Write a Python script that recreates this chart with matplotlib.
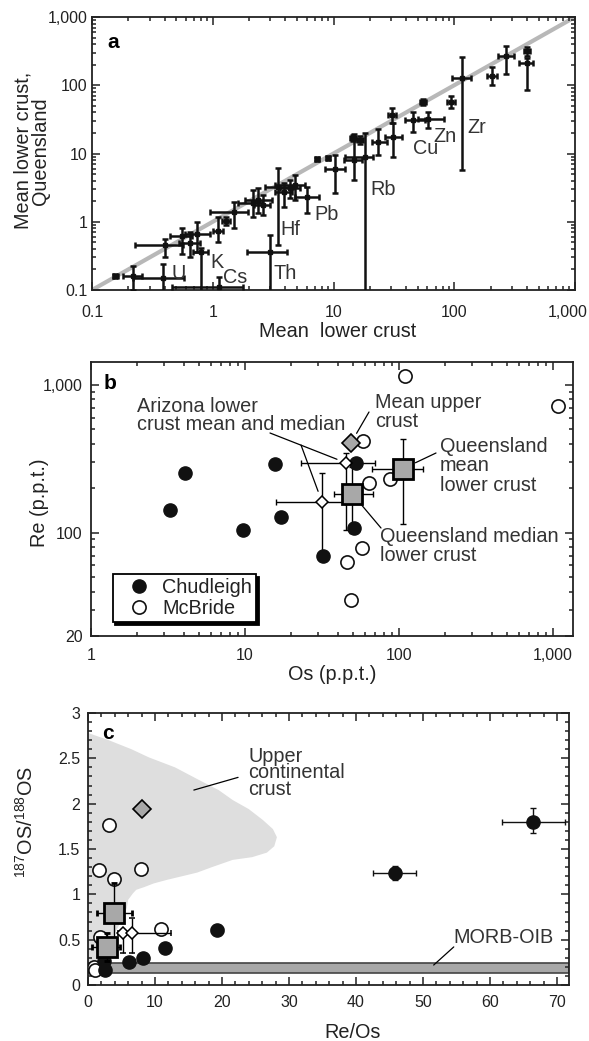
import numpy as np
import matplotlib.pyplot as plt
from matplotlib import font_manager
from matplotlib.ticker import FuncFormatter, LogLocator, MultipleLocator, NullFormatter

plt.rcParams['font.family'] = ['Liberation Sans', 'DejaVu Sans']
plt.rcParams['mathtext.fontset'] = 'custom'
plt.rcParams['mathtext.rm'] = 'Liberation Sans'
plt.rcParams['text.color'] = '#222222'
plt.rcParams['axes.labelcolor'] = '#222222'
plt.rcParams['xtick.color'] = '#222222'
plt.rcParams['ytick.color'] = '#222222'

# tick numbers in the original are set in a narrow face
try:
    font_manager.findfont(font_manager.FontProperties(family='Liberation Sans Narrow'),
                          fallback_to_default=False)
    TICK_FONT, TICK_SIZE = 'Liberation Sans Narrow', 13.5
except Exception:
    TICK_FONT, TICK_SIZE = 'Liberation Sans', 11.5

# ---------------- panel a : element concentrations ----------------
a_x = np.array([0.155, 0.218, 0.39, 0.40, 0.556, 0.65, 0.74, 0.80, 1.13, 1.10,
                1.29, 1.50, 2.15, 2.37, 2.6, 3.47, 2.98, 3.89, 4.37, 4.80,
                6.03, 7.3, 9.0, 10.3, 14.5, 16.6, 14.8, 18.2, 23.4, 31.1,
                30.5, 45.5, 60.7, 55, 94, 116, 205, 268, 400, 400])
a_y = np.array([0.16, 0.16, 0.15, 0.45, 0.62, 0.49, 0.66, 0.36, 0.11, 0.73,
                1.03, 1.39, 1.88, 2.08, 1.76, 3.23, 0.36, 2.73, 3.12, 3.45,
                2.31, 8.3, 8.6, 5.93, 16.9, 15.8, 8.0, 8.9, 14.7, 17.5,
                36.6, 31, 32, 57, 57, 128, 136, 268, 318, 212])
a_xlo = np.array([0.148, 0.18, 0.219, 0.227, 0.44, 0.53, 0.59, 0.68, 0.46, 1.0,
                  1.2, 0.95, 1.62, 1.85, 2.2, 2.71, 1.92, 3.3, 3.6, 3.28,
                  4.8, 7.0, 8.6, 8.5, 13.8, 15.8, 12.2, 12.4, 20.8, 26.7,
                  28.5, 39, 50, 52, 87, 96, 186, 230, 380, 344])
a_xhi = np.array([0.163, 0.26, 0.578, 0.567, 0.67, 0.78, 0.95, 0.91, 1.78, 1.22,
                  1.4, 1.96, 2.56, 3.1, 3.0, 4.63, 4.12, 4.5, 5.3, 5.8,
                  7.6, 7.6, 9.4, 12.4, 15.3, 17.5, 17.2, 21.2, 27.7, 36.9,
                  33, 57, 82, 58, 102, 138, 226, 313, 420, 449])
a_ylo = np.array([0.15, 0.1, 0.05, 0.305, 0.34, 0.30, 0.36, 0.05, 0.05, 0.50,
                  0.9, 0.81, 1.17, 1.34, 1.26, 0.456, 0.05, 1.64, 2.23, 2.08,
                  1.34, 7.8, 8.1, 2.64, 15.5, 14, 4.1, 0.05, 9.5, 8.9,
                  28, 20.6, 23.7, 52, 46.4, 5.7, 101, 146, 270, 85])
a_yhi = np.array([0.172, 0.225, 0.24, 0.56, 0.81, 0.71, 0.99, 0.41, 0.155, 1.17,
                  1.18, 1.95, 2.92, 3.12, 2.47, 6.1, 0.64, 3.70, 4.1, 4.84,
                  3.23, 8.9, 9.2, 9.5, 18.5, 18, 19.3, 20, 22.9, 28,
                  46.4, 40.6, 40.6, 63, 69.7, 259, 185, 376, 363, 250])

a_names = ['U', 'K', 'Cs', 'Th', 'Hf', 'Pb', 'Rb', 'Cu', 'Zn', 'Zr']
a_name_x = [0.52, 1.08, 1.53, 3.96, 4.37, 8.8, 25.7, 58, 84, 154]
a_name_y = [0.177, 0.25, 0.155, 0.177, 0.78, 1.26, 2.92, 12, 17.5, 24.4]

# ---------------- panel b : Re vs Os ----------------
chud_os = [4.08, 3.26, 9.7, 15.7, 17.1, 52.6, 51, 32.1]
chud_re = [254, 143, 105, 293, 128, 297, 108, 70]
mcb_os = [109, 1077, 58.4, 87.7, 63.9, 57.5, 46, 48.8]
mcb_re = [1151, 721, 419, 232, 218, 79, 63, 34.8]

az_os = np.array([45.3, 31.6])
az_re = np.array([297, 162])
az_os_lo = np.array([23.1, 15.9])
az_os_hi = np.array([69.8, 44.6])
az_re_lo = np.array([105, 69])
az_re_hi = np.array([348, 254])

qld_os = np.array([49.5, 106])          # median, mean
qld_re = np.array([184, 271])
qld_os_lo = np.array([38, 66.7])
qld_os_hi = np.array([68, 143])
qld_re_lo = np.array([100, 115])
qld_re_hi = np.array([279, 432])

uc_os, uc_re = 48.8, 405               # mean upper crust

# ---------------- panel c : 187Os/188Os vs Re/Os ----------------
c_mcb_reos = [3.1, 1.7, 3.9, 7.9, 10.9, 1.8, 0.9, 1.0]
c_mcb_osr = [1.76, 1.27, 1.17, 1.28, 0.62, 0.53, 0.20, 0.16]

c_chud_reos = np.array([2.5, 2.4, 6.1, 8.2, 11.5, 19.2, 45.8, 66.4])
c_chud_osr = np.array([0.17, 0.27, 0.25, 0.30, 0.41, 0.61, 1.235, 1.80])
c_chud_xlo = np.array([2.5, 2.4, 6.1, 8.2, 11.5, 18.3, 42.5, 61.8])
c_chud_xhi = np.array([2.5, 2.4, 6.1, 8.2, 11.5, 20.1, 49.0, 71.2])
c_chud_ylo = np.array([0.17, 0.27, 0.25, 0.30, 0.41, 0.61, 1.16, 1.68])
c_chud_yhi = np.array([0.17, 0.27, 0.25, 0.30, 0.41, 0.61, 1.31, 1.95])

c_qld_reos = np.array([3.9, 2.8])
c_qld_osr = np.array([0.79, 0.42])
c_qld_xlo = np.array([1.3, 0.6])
c_qld_xhi = np.array([6.6, 4.8])
c_qld_ylo = np.array([0.5, 0.27])
c_qld_yhi = np.array([1.12, 0.57])

c_az_reos = np.array([5.2, 6.6])
c_az_osr = np.array([0.57, 0.57])
c_az_xlo = np.array([5.2, 4.5])
c_az_xhi = np.array([5.2, 12.4])
c_az_ylo = np.array([0.35, 0.35])
c_az_yhi = np.array([0.57, 0.74])

c_uc_reos, c_uc_osr = 8.0, 1.94

# outline of upper continental crust field
ucc_x = [0, 3.1, 6.5, 9.1, 13, 16.6, 19.5, 21.6, 24, 26.1, 27.6, 28.2, 27.8,
         26.7, 24.5, 21.6, 18.5, 16.3, 13.5, 11.8, 9.8, 8.4, 7.2, 6.7, 6.0,
         5.8, 5.2, 4.5, 3.9, 3.6, 3.1, 2.8, 2.0, 1.0, 0]
ucc_y = [2.78, 2.70, 2.60, 2.51, 2.40, 2.26, 2.15, 2.04, 1.94, 1.82, 1.72, 1.63, 1.53,
         1.46, 1.41, 1.38, 1.30, 1.24, 1.19, 1.16, 1.12, 1.08, 1.05, 1.01, 0.94,
         0.85, 0.74, 0.64, 0.56, 0.50, 0.40, 0.31, 0.26, 0.24, 0.22]
morb_lo, morb_hi = 0.13, 0.24

GREY = '#a8a8a8'
TXT = 14.3

fig = plt.figure(figsize=(5.89, 10.41), dpi=100)
W, H = 589.0, 1041.0


def axes_at(left, top, right, bottom):
    return fig.add_axes([left / W, 1 - bottom / H, (right - left) / W, (bottom - top) / H])


def style(ax, xpad, ypad):
    for s in ax.spines.values():
        s.set_linewidth(1.3)
        s.set_color('#222222')
    ax.tick_params(which='both', direction='in', top=True, right=True,
                   labelsize=TICK_SIZE, labelfontfamily=TICK_FONT, width=1.1)
    ax.tick_params(which='major', length=6)
    ax.tick_params(which='minor', length=3)
    ax.tick_params(axis='x', which='major', pad=xpad)
    ax.tick_params(axis='y', which='major', pad=ypad)


def log_fmt(v, pos):
    return '{:,.0f}'.format(v) if v >= 1 else '{:g}'.format(v)


def fig_pt(px, py):
    return (px / W, 1 - py / H)


# ----- a -----
ax = axes_at(92, 17, 575, 290)
ax.set_xscale('log')
ax.set_yscale('log')
ax.set_xlim(0.1, 1000)
ax.set_ylim(0.1, 1000)
ax.plot([0.1, 1000], [0.1, 1000], color='#b8b8b8', lw=3, zorder=1)
ax.errorbar(a_x, a_y, xerr=[a_x - a_xlo, a_xhi - a_x], yerr=[a_y - a_ylo, a_yhi - a_y],
            fmt='s', ms=3.5, color='#111111', elinewidth=1.8, capsize=2.5,
            capthick=1.8, zorder=3)
for name, tx, ty in zip(a_names, a_name_x, a_name_y):
    ax.text(tx, ty, name, fontsize=TXT, ha='center', va='center', color='#333333')
ax.set_xticks([0.1, 1, 10, 100, 1000])
ax.set_yticks([0.1, 1, 10, 100, 1000])
for axis in (ax.xaxis, ax.yaxis):
    axis.set_major_formatter(FuncFormatter(log_fmt))
    axis.set_minor_locator(LogLocator(subs=np.arange(2, 10)))
    axis.set_minor_formatter(NullFormatter())
# last x label sits at the figure edge: draw it nudged a little to the left
ax.xaxis.set_major_formatter(FuncFormatter(lambda v, p: '' if v >= 1000 else log_fmt(v, p)))
ax.annotate('1,000', xy=(1000, 0), xycoords=('data', 'axes fraction'), xytext=(-5, -10.5),
            textcoords='offset points', ha='center', va='top', fontsize=TICK_SIZE,
            family=TICK_FONT, color='#222222')
style(ax, 10.5, 3)
ax.text(0.043, 0.905, 'a', transform=ax.transAxes, fontsize=15, fontweight='bold',
        ha='center', va='center', color='black')
ax.text(0.509, -0.152, 'Mean  lower crust', transform=ax.transAxes, fontsize=TXT,
        ha='center', va='center')
ax.text(-0.124, 0.51, 'Mean lower crust,\nQueensland', transform=ax.transAxes,
        fontsize=TXT, rotation=90, ha='center', va='center', linespacing=0.9)

# ----- b -----
bx = axes_at(91, 362, 573, 636)
bx.set_xscale('log')
bx.set_yscale('log')
bx.set_xlim(1, 1349)
bx.set_ylim(20, 1429)
bx.errorbar(az_os, az_re, xerr=[az_os - az_os_lo, az_os_hi - az_os],
            yerr=[az_re - az_re_lo, az_re_hi - az_re], fmt='none', ecolor='black',
            elinewidth=1, capsize=2.5, capthick=1, zorder=2)
bx.errorbar(qld_os, qld_re, xerr=[qld_os - qld_os_lo, qld_os_hi - qld_os],
            yerr=[qld_re - qld_re_lo, qld_re_hi - qld_re], fmt='none', ecolor='black',
            elinewidth=1, capsize=2.5, capthick=1, zorder=2)
bx.plot(chud_os, chud_re, 'o', ms=9.5, mfc='#111111', mec='#111111', zorder=4,
        label='Chudleigh')
bx.plot(mcb_os, mcb_re, 'o', ms=9.5, mfc='white', mec='#111111', mew=1.2, zorder=4,
        label='McBride')
bx.plot(az_os, az_re, 'D', ms=6.5, mfc='white', mec='black', mew=1.1, zorder=5)
bx.plot(qld_os, qld_re, 's', ms=14, mfc=GREY, mec='black', mew=2, zorder=6)
bx.plot(uc_os, uc_re, 'D', ms=9, mfc=GREY, mec='black', mew=1.2, zorder=5)

ann = dict(fontsize=TXT, ha='left', va='top', linespacing=1.02, color='#333333')
lead = dict(arrowstyle='-', color='black', lw=0.9)

bx.text(*fig_pt(137, 397), 'Arizona lower\ncrust mean and median',
        transform=fig.transFigure, linespacing=0.92,
        **{k: v for k, v in ann.items() if k != 'linespacing'})
bx.annotate('', xy=(az_os[0], az_re[0]), xytext=fig_pt(270, 433), textcoords='figure fraction',
            arrowprops=dict(shrinkB=7, shrinkA=0, **lead))
bx.annotate('', xy=(az_os[1], az_re[1]), xytext=fig_pt(301, 445), textcoords='figure fraction',
            arrowprops=dict(shrinkB=8, shrinkA=0, **lead))
bx.text(*fig_pt(375, 393), 'Mean upper\ncrust', transform=fig.transFigure, **ann)
bx.annotate('', xy=(uc_os, uc_re), xytext=fig_pt(369, 412), textcoords='figure fraction',
            arrowprops=dict(shrinkB=8, shrinkA=0, **lead))
bx.text(*fig_pt(440, 437), 'Queensland\nmean\nlower crust', transform=fig.transFigure, **ann)
bx.annotate('', xy=(qld_os[1], qld_re[1]), xytext=fig_pt(436, 453), textcoords='figure fraction',
            arrowprops=dict(shrinkB=10, shrinkA=0, **lead))
bx.text(*fig_pt(380, 527), 'Queensland median\nlower crust', transform=fig.transFigure, **ann)
bx.annotate('', xy=(qld_os[0], qld_re[0]), xytext=fig_pt(381, 528), textcoords='figure fraction',
            arrowprops=dict(shrinkB=10, shrinkA=0, **lead))

bx.set_xticks([1, 10, 100, 1000])
bx.set_yticks([20, 100, 1000])
for axis in (bx.xaxis, bx.yaxis):
    axis.set_major_formatter(FuncFormatter(log_fmt))
    axis.set_minor_locator(LogLocator(subs=np.arange(2, 10)))
    axis.set_minor_formatter(NullFormatter())
style(bx, 9, 6)
leg = bx.legend(loc='lower left', bbox_to_anchor=(0.045, 0.05), fontsize=TXT,
                frameon=True, fancybox=False, shadow={'color': 'black', 'alpha': 1},
                handletextpad=0.1, borderpad=0.2, labelspacing=0.1, handlelength=2.2,
                borderaxespad=0)
leg.get_frame().set_edgecolor('black')
leg.get_frame().set_linewidth(1.3)
bx.text(0.04, 0.922, 'b', transform=bx.transAxes, fontsize=15, fontweight='bold',
        ha='center', va='center', color='black')
bx.text(0.5, -0.142, 'Os (p.p.t.)', transform=bx.transAxes, fontsize=TXT,
        ha='center', va='center')
bx.text(-0.106, 0.485, 'Re (p.p.t.)', transform=bx.transAxes, fontsize=TXT,
        rotation=90, ha='center', va='center')

# ----- c -----
cx = axes_at(88, 713, 569, 985)
cx.set_xlim(0, 71.8)
cx.set_ylim(0, 3)
cx.fill(ucc_x, ucc_y, color='#dedede', lw=0, zorder=0)
cx.axhspan(morb_lo, morb_hi, facecolor=GREY, edgecolor='#444444', lw=1.2, zorder=1)
cx.errorbar(c_chud_reos, c_chud_osr,
            xerr=[c_chud_reos - c_chud_xlo, c_chud_xhi - c_chud_reos],
            yerr=[c_chud_osr - c_chud_ylo, c_chud_yhi - c_chud_osr],
            fmt='o', ms=9.5, color='#111111', elinewidth=1, capsize=2.5, capthick=1,
            zorder=3)
cx.plot(c_mcb_reos, c_mcb_osr, 'o', ms=9.5, mfc='white', mec='#111111', mew=1.2, zorder=3)
cx.errorbar(c_az_reos, c_az_osr, xerr=[c_az_reos - c_az_xlo, c_az_xhi - c_az_reos],
            yerr=[c_az_osr - c_az_ylo, c_az_yhi - c_az_osr], fmt='D', ms=6.5,
            mfc='white', mec='black', mew=1.1, ecolor='black', elinewidth=1,
            capsize=2.5, capthick=1, zorder=4)
cx.errorbar(c_qld_reos, c_qld_osr, xerr=[c_qld_reos - c_qld_xlo, c_qld_xhi - c_qld_reos],
            yerr=[c_qld_osr - c_qld_ylo, c_qld_yhi - c_qld_osr], fmt='s', ms=15,
            mfc=GREY, mec='black', mew=2, ecolor='black', elinewidth=1,
            capsize=2.5, capthick=1, zorder=5)
cx.plot(c_uc_reos, c_uc_osr, 'D', ms=9, mfc=GREY, mec='black', mew=1.2, zorder=5)

cx.text(23.9, 2.63, 'Upper\ncontinental\ncrust', fontsize=TXT, ha='left', va='top',
        linespacing=0.85, color='#333333')
cx.annotate('', xy=(15.8, 2.15), xytext=(22.4, 2.29), arrowprops=dict(shrinkA=0, shrinkB=0, **lead))
cx.text(54.5, 0.52, 'MORB-OIB', fontsize=TXT, ha='left', va='center', color='#333333')
cx.annotate('', xy=(51.6, morb_hi - 0.02), xytext=(54.6, 0.42),
            arrowprops=dict(shrinkA=0, shrinkB=0, **lead))

cx.xaxis.set_major_locator(MultipleLocator(10))
cx.xaxis.set_minor_locator(MultipleLocator(2))
cx.yaxis.set_major_locator(MultipleLocator(0.5))
cx.yaxis.set_minor_locator(MultipleLocator(0.1))
cx.yaxis.set_major_formatter(FuncFormatter(lambda v, p: '{:g}'.format(v)))
style(cx, 7, 5.5)
cx.text(0.042, 0.926, 'c', transform=cx.transAxes, fontsize=15, fontweight='bold',
        ha='center', va='center', color='black')
cx.text(0.549, -0.176, 'Re/Os', transform=cx.transAxes, fontsize=TXT,
        ha='center', va='center')
cx.text(-0.13, 0.6, r'$^{187}\mathrm{OS}/^{188}\mathrm{OS}$', transform=cx.transAxes,
        fontsize=TXT, rotation=90, ha='center', va='center')

fig.savefig('out.png', dpi=100)
